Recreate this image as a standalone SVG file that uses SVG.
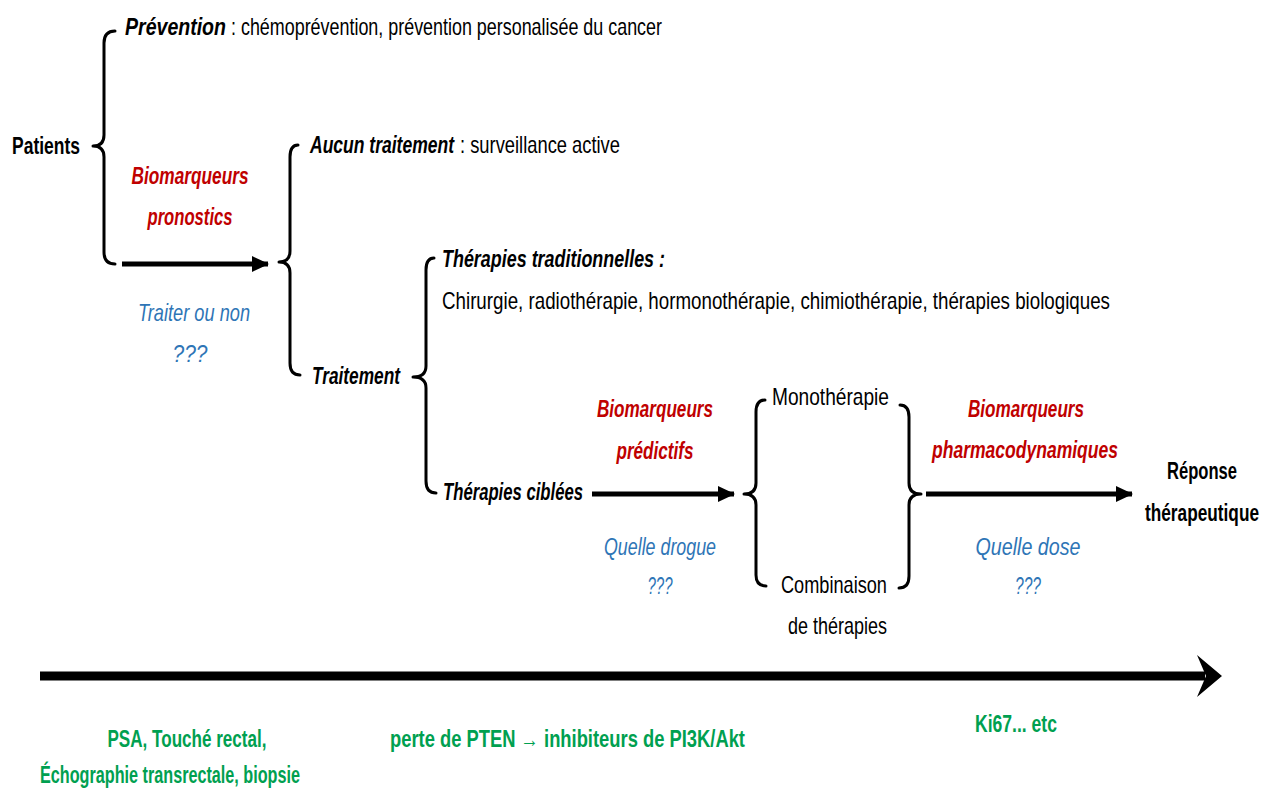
<svg xmlns="http://www.w3.org/2000/svg" width="1265" height="788" viewBox="0 0 1265 788">
<style>
text{font-family:"Liberation Sans",Arial,sans-serif;font-size:23px;fill:#000}
.b{font-weight:bold}
.i{font-style:italic}
.red{fill:#C00000;font-weight:bold;font-style:italic}
.blue{fill:#2E75B6;font-style:italic}
.green{fill:#00A050;font-weight:bold}
.m{text-anchor:middle}
.brace{fill:none;stroke:#000;stroke-width:3;stroke-linecap:round;stroke-linejoin:round}
.arr{stroke:#000;stroke-width:5;fill:none}
</style>
<defs>
<marker id="ah" markerWidth="4" markerHeight="4" refX="3.2" refY="2" orient="auto" markerUnits="strokeWidth">
<path d="M0,0.4 L3.4,2 L0,3.6 Z" fill="#000"/>
</marker>
</defs>
<rect width="1265" height="788" fill="#fff"/>

<g id="connectors">
<path class="brace" d="M115,31 Q104,31 104,43 L104,135 Q104,146 93,146 Q104,146 104,157 L104,252 Q104,264 115,264"/>
<path class="brace" d="M298,145 Q290,145 290,157 L290,251 Q290,262 279,262 Q290,262 290,273 L290,363 Q290,375 300,375"/>
<path class="brace" d="M434,258 Q426,258 426,270 L426,366 Q426,377 413,377 Q426,377 426,388 L426,481 Q426,493 436,493"/>
<path class="brace" d="M765,400 Q756,400 756,412 L756,483 Q756,494 744,494 Q756,494 756,505 L756,575 Q756,586 766,586"/>
<path class="brace" d="M900,405 Q909,405 909,417 L909,483 Q909,494 921,494 Q909,494 909,505 L909,576 Q909,588 899,588"/>
<line class="arr" x1="122" y1="264" x2="268" y2="264" marker-end="url(#ah)"/>
<line class="arr" x1="592" y1="494" x2="734" y2="494" marker-end="url(#ah)"/>
<line class="arr" x1="926" y1="494" x2="1132" y2="494" marker-end="url(#ah)"/>
<line x1="40" y1="676" x2="1205" y2="676" stroke="#000" stroke-width="9"/>
<path d="M1197,655 L1222,676 L1197,697 L1206,676 Z" fill="#000"/>
</g>

<g id="patients"><text transform="translate(12 154) scale(0.74 1)" class="b" textLength="91.9" lengthAdjust="spacingAndGlyphs">Patients</text></g>
<g id="prevention">
<text transform="translate(125 35) scale(0.74 1)" class="b i" textLength="136.5" lengthAdjust="spacingAndGlyphs">Prévention</text>
<text transform="translate(231 35) scale(0.74 1)" textLength="582.4" lengthAdjust="spacingAndGlyphs">: chémoprévention, prévention personalisée  du cancer</text>
</g>
<g id="bio-pronostics">
<text transform="translate(190 184) scale(0.74 1)" class="red m" textLength="158.1" lengthAdjust="spacingAndGlyphs">Biomarqueurs</text>
<text transform="translate(190 225) scale(0.74 1)" class="red m" textLength="114.9" lengthAdjust="spacingAndGlyphs">pronostics</text>
</g>
<g id="traiter">
<text transform="translate(194 321) scale(0.74 1)" class="blue m" textLength="151.4" lengthAdjust="spacingAndGlyphs">Traiter ou non</text>
<text transform="translate(190 362) scale(0.74 1)" class="blue m" textLength="47.3" lengthAdjust="spacingAndGlyphs">???</text>
</g>
<g id="aucun">
<text transform="translate(310 153) scale(0.74 1)" class="b i" textLength="194.6" lengthAdjust="spacingAndGlyphs">Aucun traitement</text>
<text transform="translate(460 153) scale(0.74 1)" textLength="216.2" lengthAdjust="spacingAndGlyphs">: surveillance active</text>
</g>
<g id="traitement"><text transform="translate(312 384) scale(0.74 1)" class="b i" textLength="118.9" lengthAdjust="spacingAndGlyphs">Traitement</text></g>
<g id="traditionnelles">
<text transform="translate(442 267) scale(0.74 1)" class="b i" textLength="301.4" lengthAdjust="spacingAndGlyphs">Thérapies traditionnelles :</text>
<text transform="translate(442 309) scale(0.74 1)" textLength="902.7" lengthAdjust="spacingAndGlyphs">Chirurgie, radiothérapie, hormonothérapie, chimiothérapie, thérapies  biologiques</text>
</g>
<g id="ciblees"><text transform="translate(443 500) scale(0.74 1)" class="b i" textLength="189.2" lengthAdjust="spacingAndGlyphs">Thérapies ciblées</text></g>
<g id="bio-predictifs">
<text transform="translate(655 417) scale(0.74 1)" class="red m" textLength="156.8" lengthAdjust="spacingAndGlyphs">Biomarqueurs</text>
<text transform="translate(655 459) scale(0.74 1)" class="red m" textLength="104.1" lengthAdjust="spacingAndGlyphs">prédictifs</text>
</g>
<g id="drogue">
<text transform="translate(660 555) scale(0.74 1)" class="blue m" textLength="151.4" lengthAdjust="spacingAndGlyphs">Quelle drogue</text>
<text transform="translate(660 594) scale(0.74 1)" class="blue m" textLength="33.8" lengthAdjust="spacingAndGlyphs">???</text>
</g>
<g id="mono"><text transform="translate(772 405) scale(0.74 1)" textLength="158.1" lengthAdjust="spacingAndGlyphs">Monothérapie</text></g>
<g id="combinaison">
<text transform="translate(781 593) scale(0.74 1)" textLength="143.2" lengthAdjust="spacingAndGlyphs">Combinaison</text>
<text transform="translate(788 634) scale(0.74 1)" textLength="133.8" lengthAdjust="spacingAndGlyphs">de thérapies</text>
</g>
<g id="bio-pharmaco">
<text transform="translate(1026 417) scale(0.74 1)" class="red m" textLength="156.8" lengthAdjust="spacingAndGlyphs">Biomarqueurs</text>
<text transform="translate(1025 458) scale(0.74 1)" class="red m" textLength="251.4" lengthAdjust="spacingAndGlyphs">pharmacodynamiques</text>
</g>
<g id="dose">
<text transform="translate(1028 555) scale(0.74 1)" class="blue m" textLength="141.9" lengthAdjust="spacingAndGlyphs">Quelle dose</text>
<text transform="translate(1028 594) scale(0.74 1)" class="blue m" textLength="35.1" lengthAdjust="spacingAndGlyphs">???</text>
</g>
<g id="reponse">
<text transform="translate(1202 479) scale(0.74 1)" class="b m" textLength="94.6" lengthAdjust="spacingAndGlyphs">Réponse</text>
<text transform="translate(1202 521) scale(0.74 1)" class="b m" textLength="154.1" lengthAdjust="spacingAndGlyphs">thérapeutique</text>
</g>
<g id="green-psa">
<text transform="translate(187 747) scale(0.74 1)" class="green m" textLength="214.9" lengthAdjust="spacingAndGlyphs">PSA, Touché rectal,</text>
<text transform="translate(170 783) scale(0.74 1)" class="green m" textLength="351.4" lengthAdjust="spacingAndGlyphs">Échographie transrectale, biopsie</text>
</g>
<g id="green-pten"><text transform="translate(390 747) scale(0.74 1)" class="green" textLength="479.7" lengthAdjust="spacingAndGlyphs">perte de PTEN → inhibiteurs de PI3K/Akt</text></g>
<g id="green-ki67"><text transform="translate(975 732) scale(0.74 1)" class="green" textLength="110.8" lengthAdjust="spacingAndGlyphs">Ki67... etc</text></g>
</svg>
